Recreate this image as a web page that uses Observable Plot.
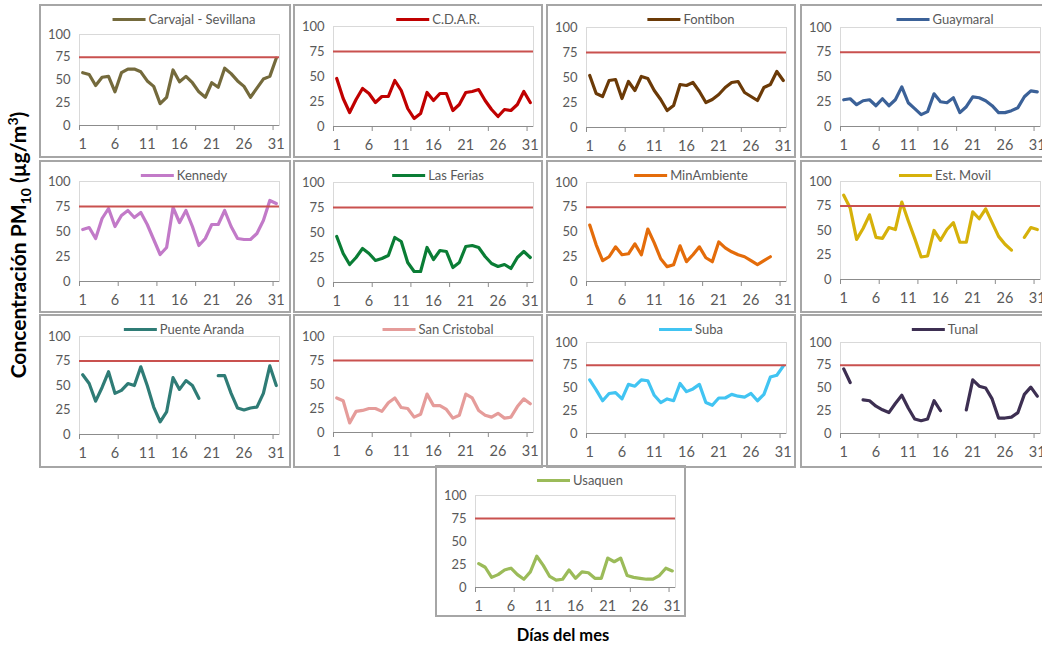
<!DOCTYPE html>
<html><head><meta charset="utf-8">
<script src="https://cdn.jsdelivr.net/npm/d3@7"></script>
<script src="https://cdn.jsdelivr.net/npm/@observablehq/plot@0.6"></script>
<style>
html,body{margin:0;padding:0;background:#fff;}
#chart{position:relative;width:1042px;height:647px;overflow:hidden;background:#fff;font-family:Lato,"Open Sans",sans-serif;}
.panel{position:absolute;box-sizing:border-box;box-shadow:inset 0 0 0 2px #a6a6a6;}
.panel svg{position:absolute;left:0;top:0;}
.legend{position:absolute;left:145px;transform:translate(-50%,-50%);display:flex;align-items:center;white-space:nowrap;font-size:13px;color:#595959;}
.swatch{display:inline-block;width:33px;height:3px;margin-right:3px;}
#ylab{position:absolute;left:19px;top:245px;transform:translate(-50%,-50%) rotate(-90deg);white-space:nowrap;font-weight:bold;font-size:21px;color:#000;}
#ylab sub,#ylab sup{font-size:14px;}
#xlab{position:absolute;left:563px;top:635px;transform:translate(-50%,-50%);white-space:nowrap;font-weight:bold;font-size:16.5px;color:#000;}
</style></head><body><div id="chart"></div>
<script>
// ---- data ----
const days = [1,2,3,4,5,6,7,8,9,10,11,12,13,14,15,16,17,18,19,20,21,22,23,24,25,26,27,28,29,30,31];
const xTicks = [1,6,11,16,21,26,31];
const xTickMarks = [0.5,6.5,12.5,18.5,24.5,30.5];
const yTicks = [0,25,50,75,100];
const limit = 75;

const stations = ["Carvajal - Sevillana","C.D.A.R.","Fontibon","Guaymaral","Kennedy","Las Ferias","MinAmbiente","Est. Movil","Puente Aranda","San Cristobal","Suba","Tunal","Usaquen"];

const carvajal = [58,56,44,53,54,37,58,62,62,59,49,43,24,31,61,48,54,47,37,31,47,42,63,57,49,43,31,41,51,54,74];
const cdar = [48,28,14,27,38,33,24,30,30,46,36,18,8,13,34,26,33,33,16,22,34,35,37,26,17,10,17,16,22,35,24];
const fontibon = [52,34,31,47,48,29,46,37,51,49,37,28,17,22,43,42,45,36,25,28,33,40,45,46,35,31,27,40,43,56,47];
const guaymaral = [27,28,22,26,27,21,28,21,27,40,24,18,12,15,33,25,24,29,14,20,30,29,26,21,14,14,16,19,30,36,35];
const kennedy = [52,54,43,63,73,55,66,71,64,69,57,42,27,34,74,59,71,55,36,43,57,57,71,55,43,42,42,48,61,81,78];
const lasFerias = [46,29,18,25,34,29,22,24,27,45,41,20,11,11,35,23,32,31,15,20,36,37,35,26,19,16,18,14,25,31,25];
const minAmbiente = [57,37,21,25,35,27,28,38,27,53,39,23,15,17,36,20,27,35,24,20,40,34,30,27,25,21,17,21,25,null,null];
const estMovil = [86,73,41,52,66,43,42,53,51,79,60,42,23,24,50,40,51,58,38,38,69,62,72,58,44,36,30,null,43,53,51];
const puenteAranda = [61,52,34,48,64,42,45,52,50,69,50,28,13,23,58,46,55,50,37,null,null,60,60,42,27,25,27,28,42,70,50];
const sanCristobal = [36,33,10,22,23,25,25,22,31,36,26,25,16,19,40,28,28,24,15,18,40,36,23,18,16,20,15,16,27,35,30];
const suba = [59,48,36,44,45,38,54,52,59,58,42,34,38,36,55,46,49,54,34,31,39,39,43,41,40,44,36,43,62,64,74];
const tunal = [71,56,null,37,36,30,26,23,33,42,28,16,14,16,36,25,null,null,null,26,59,52,50,38,17,17,18,23,43,51,41];
const usaquen = [26,22,11,14,19,21,14,9,17,34,24,12,8,9,19,10,17,16,10,10,32,28,32,13,11,10,9,9,13,21,18];

const seriesValues = [carvajal,cdar,fontibon,guaymaral,kennedy,lasFerias,minAmbiente,estMovil,puenteAranda,sanCristobal,suba,tunal,usaquen];

// ---- styles / layout ----
const colors = ["#746a3c","#c00000","#6b3a07","#3b6198","#c27ac8","#0a7d35","#e46c0a","#d6b10a","#2f7c76","#e59c9a","#41c4f2","#3d2f52","#9bbb59"];
const layout = [
  {left:39, top:4,   w:252, h:154, yTop:30, yBottom:121},
  {left:293,top:4,   w:250, h:154, yTop:22, yBottom:122},
  {left:546,top:4,   w:250, h:154, yTop:23, yBottom:123},
  {left:800,top:4,   w:250, h:154, yTop:23, yBottom:122},
  {left:39, top:160, w:252, h:153, yTop:21, yBottom:121},
  {left:293,top:160, w:250, h:153, yTop:22, yBottom:122},
  {left:546,top:160, w:250, h:153, yTop:22, yBottom:121},
  {left:800,top:160, w:250, h:153, yTop:21, yBottom:119},
  {left:39, top:314, w:252, h:154, yTop:22, yBottom:120},
  {left:293,top:314, w:250, h:154, yTop:22, yBottom:118},
  {left:546,top:314, w:250, h:154, yTop:28, yBottom:119},
  {left:800,top:314, w:250, h:154, yTop:28, yBottom:119},
  {left:435,top:465, w:251, h:152, yTop:30, yBottom:122}
];

const chart = document.getElementById("chart");

stations.forEach((name, i) => {
  const L = layout[i];
  const data = days.map((d, j) => ({day: d, value: seriesValues[i][j]}));
  const panel = document.createElement("div");
  panel.className = "panel";
  Object.assign(panel.style, {left: L.left + "px", top: L.top + "px", width: L.w + "px", height: L.h + "px"});

  const svg = Plot.plot({
    width: L.w, height: L.h,
    marginLeft: 40, marginRight: L.w - 240, marginTop: L.yTop, marginBottom: L.h - L.yBottom,
    x: {domain: [0.5, 31.5], label: null},
    y: {domain: [0, 100], label: null},
    style: {fontFamily: "Lato, 'Open Sans', sans-serif", color: "#595959", background: "transparent", overflow: "visible"},
    marks: [
      Plot.frame({stroke: "#d9d9d9"}),
      Plot.ruleY([0], {stroke: "#8c8c8c"}),
      Plot.axisY(yTicks, {tickSize: 0, tickPadding: 9, fontSize: 13}),
      Plot.axisX(xTickMarks, {tickSize: 5, tickFormat: () => "", stroke: "#8c8c8c"}),
      Plot.axisX(xTicks, {tickSize: 0, tickPadding: 13, fontSize: 14.5}),
      Plot.line(data, {x: "day", y: "value", stroke: colors[i], strokeWidth: 3.2, strokeLinejoin: "round"}),
      Plot.ruleY([limit], {stroke: "#c9514f", strokeWidth: 2})
    ]
  });
  panel.appendChild(svg);

  const leg = document.createElement("div");
  leg.className = "legend";
  leg.style.top = "15px";
  const sw = document.createElement("span");
  sw.className = "swatch";
  sw.style.background = colors[i];
  const tx = document.createElement("span");
  tx.textContent = name;
  leg.appendChild(sw); leg.appendChild(tx);
  panel.appendChild(leg);
  chart.appendChild(panel);
});

const ylab = document.createElement("div");
ylab.id = "ylab";
ylab.innerHTML = "Concentración PM<sub>10</sub> (µg/m<sup>3</sup>)";
chart.appendChild(ylab);
const xlab = document.createElement("div");
xlab.id = "xlab";
xlab.textContent = "Días del mes";
chart.appendChild(xlab);
</script></body></html>
